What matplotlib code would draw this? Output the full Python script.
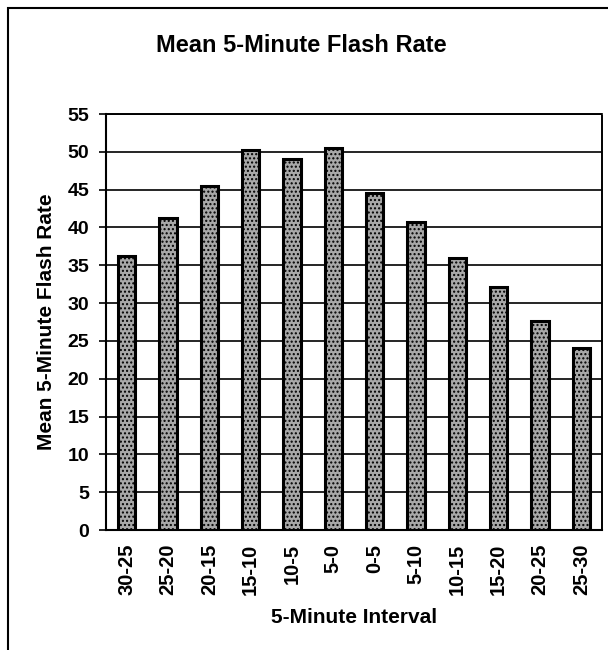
import numpy as np
import matplotlib
matplotlib.use('Agg')
import matplotlib.pyplot as plt
from matplotlib.patches import Rectangle

# --- Data ---
intervals = ['30-25', '25-20', '20-15', '15-10', '10-5', '5-0',
             '0-5', '5-10', '10-15', '15-20', '20-25', '25-30']
flash_rate = [36.2, 41.2, 45.5, 50.3, 49.1, 50.5,
              44.6, 40.7, 36.0, 32.1, 27.6, 24.0]
y_ticks = list(range(0, 56, 5))

plt.rcParams['font.family'] = ['Liberation Sans', 'DejaVu Sans']
plt.rcParams['hatch.color'] = '#383838'
plt.rcParams['hatch.linewidth'] = 1.0

fig = plt.figure(figsize=(6.08, 6.5), dpi=100)
ax = fig.add_axes([0.1743, 0.1846, 0.8157, 0.64])

x = np.arange(len(intervals))
ax.bar(x, flash_rate, width=0.42, facecolor='#a8a8a8', edgecolor='black',
       linewidth=2.2, hatch='....', zorder=3)

ax.set_xlim(-0.5, len(intervals) - 0.5)
ax.set_ylim(0, 55)
ax.set_yticks(y_ticks)
ax.set_xticks(x)
ax.set_xticklabels(intervals, rotation=90, fontsize=14.5, fontweight='bold')
ax.set_yticklabels([str(v) for v in y_ticks], fontsize=14, fontweight='bold')
ax.tick_params(axis='y', direction='out', length=5, width=1.2, pad=7)
ax.tick_params(axis='x', length=0, pad=10)

ax.grid(axis='y', color='black', linewidth=1.2, zorder=0)
ax.set_axisbelow(True)

# plot area border: solid left/bottom, dotted top/right
ax.spines['left'].set_linewidth(1.5)
ax.spines['bottom'].set_linewidth(1.5)
for s in ['top', 'right']:
    ax.spines[s].set_linestyle((0, (1, 1)))
    ax.spines[s].set_linewidth(1.4)

ax.set_ylabel('Mean 5-Minute Flash Rate', fontsize=15, fontweight='bold', labelpad=8)
ax.set_xlabel('5-Minute Interval', fontsize=15, fontweight='bold', labelpad=9)
fig.text(0.495, 0.93, 'Mean 5-Minute Flash Rate', ha='center', va='center',
         fontsize=17, fontweight='bold')

# chart frame
fig.patches.append(Rectangle((8 / 608, -0.05), 1.2, 1.05 - 8 / 650,
                             transform=fig.transFigure, fill=False,
                             edgecolor='black', linewidth=1.5))

fig.savefig('out.png', dpi=100)
